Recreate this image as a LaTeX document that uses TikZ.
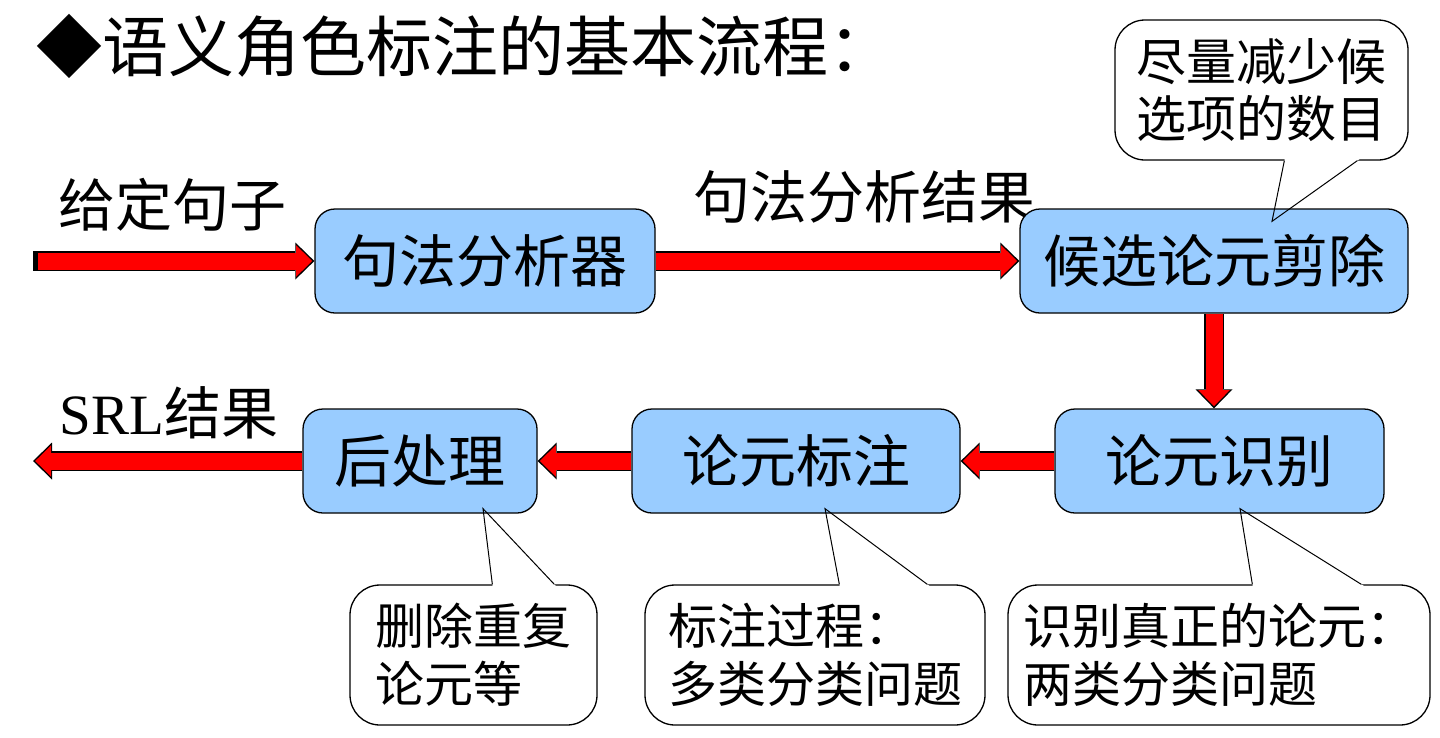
\documentclass[tikz,border=0pt]{standalone}
\usepackage{fontspec}
\setmainfont{Liberation Serif}
\newfontfamily\cjk{Noto Sans CJK SC}
\usepackage{xcolor}
\usepackage{tikz}
\usetikzlibrary{arrows.meta,calc}
\definecolor{boxblue}{HTML}{99CCFF}
\tikzset{
    flowbox/.style={shape=rectangle, draw=black, line width=1.3pt, fill=boxblue, rounded corners=20pt, minimum height=104pt, inner sep=0pt, font=\cjk\fontsize{57}{60}\selectfont},
    notebox/.style={shape=rectangle, draw=black, line width=1.3pt, fill=white, rounded corners=30pt, minimum height=140pt, inner sep=0pt, align=left, font=\cjk\fontsize{49}{58}\selectfont},
    plain/.style={inner sep=0pt, font=\cjk\fontsize{57}{60}\selectfont},
    flowedge/.style={line width=20pt, black, -{Triangle[width=37pt,length=19pt,line width=0pt]}},
    flowfill/.style={line width=17pt, red, shorten >=2.2pt, -{Triangle[width=31.5pt,length=16pt,line width=0pt]}},
    pointer/.style={draw=black, line width=1pt},
}
\begin{document}
\begin{tikzpicture}[x=1pt, y=-1pt]
            \useasboundingbox (0,0) rectangle (1440,737);

            \node[plain, anchor=west, font=\cjk\fontsize{66}{70}\selectfont] (title) at (36,46) {◆语义角色标注的基本流程：};

            \node[plain] (given) at (172,205) {给定句子};
            \node[plain] (synres) at (864,197) {句法分析结果};
            \node[plain] (srl) at (169,413) {{\rmfamily SRL}结果};

            \node[flowbox, minimum width=340pt] (parser) at (485,261) {句法分析器};
            \node[flowbox, minimum width=388pt] (prune) at (1214,261) {候选论元剪除};
            \node[flowbox, minimum width=329pt] (ident) at (1219.5,461) {论元识别};
            \node[flowbox, minimum width=328pt] (tag) at (796,461) {论元标注};
            \node[flowbox, minimum width=234pt] (post) at (420,461) {后处理};

            \coordinate (in) at (33,261);
            \coordinate (out) at (33,461);

            \draw[flowedge] (in) -- (parser.west);
            \draw[flowfill, shorten <=5pt] (in) -- (parser.west);
            \foreach \a/\b in {parser.east/prune.west, prune.south/prune.south |- ident.north, ident.west/tag.east, tag.west/post.east, post.west/out} {
                \draw[flowedge] (\a) -- (\b);
                \draw[flowfill] (\a) -- (\b);
            }

            \node[notebox, minimum width=293pt, font=\cjk\fontsize{50}{57}\selectfont] (prunenote) at (1261.5,90) {尽量减少候\\选项的数目};
            \node[notebox, minimum width=247pt] (postnote) at (473.5,655) {删除重复\\论元等};
            \node[notebox, minimum width=340pt] (tagnote) at (815,655) {标注过程：\\多类分类问题};
            \node[notebox, minimum width=422pt] (identnote) at (1219,655) {识别真正的论元：\\两类分类问题};

            % pointer tips inside the boxes, bases on the notes
            \coordinate (prune-tip) at ($(prune.north)+(58,13)$);
            \coordinate (prune-L) at ($(prunenote.south west)+(170,0)$);
            \coordinate (prune-R) at ($(prunenote.south west)+(243,0)$);
            \coordinate (post-tip) at ($(post.south)+(63,-5)$);
            \coordinate (post-L) at ($(postnote.north west)+(143,0)$);
            \coordinate (post-R) at ($(postnote.north west)+(205,0)$);
            \coordinate (tag-tip) at ($(tag.south)+(29,-5)$);
            \coordinate (tag-L) at ($(tagnote.north west)+(195,0)$);
            \coordinate (tag-R) at ($(tagnote.north west)+(283,0)$);
            \coordinate (ident-tip) at ($(ident.south)+(20.5,-5)$);
            \coordinate (ident-L) at ($(identnote.north west)+(245,0)$);
            \coordinate (ident-R) at ($(identnote.north west)+(354,0)$);

            \foreach \n/\f in {prune/0.25, post/0.1, tag/0.1, ident/0.1} {
                \fill[white] ($(\n-tip)!\f!(\n-L)$) -- ($(\n-tip)!1.05!(\n-L)$) -- ($(\n-tip)!1.05!(\n-R)$) -- ($(\n-tip)!\f!(\n-R)$) -- cycle;
                \draw[pointer] (\n-L) -- (\n-tip) -- (\n-R);
            }
\end{tikzpicture}
\end{document}
